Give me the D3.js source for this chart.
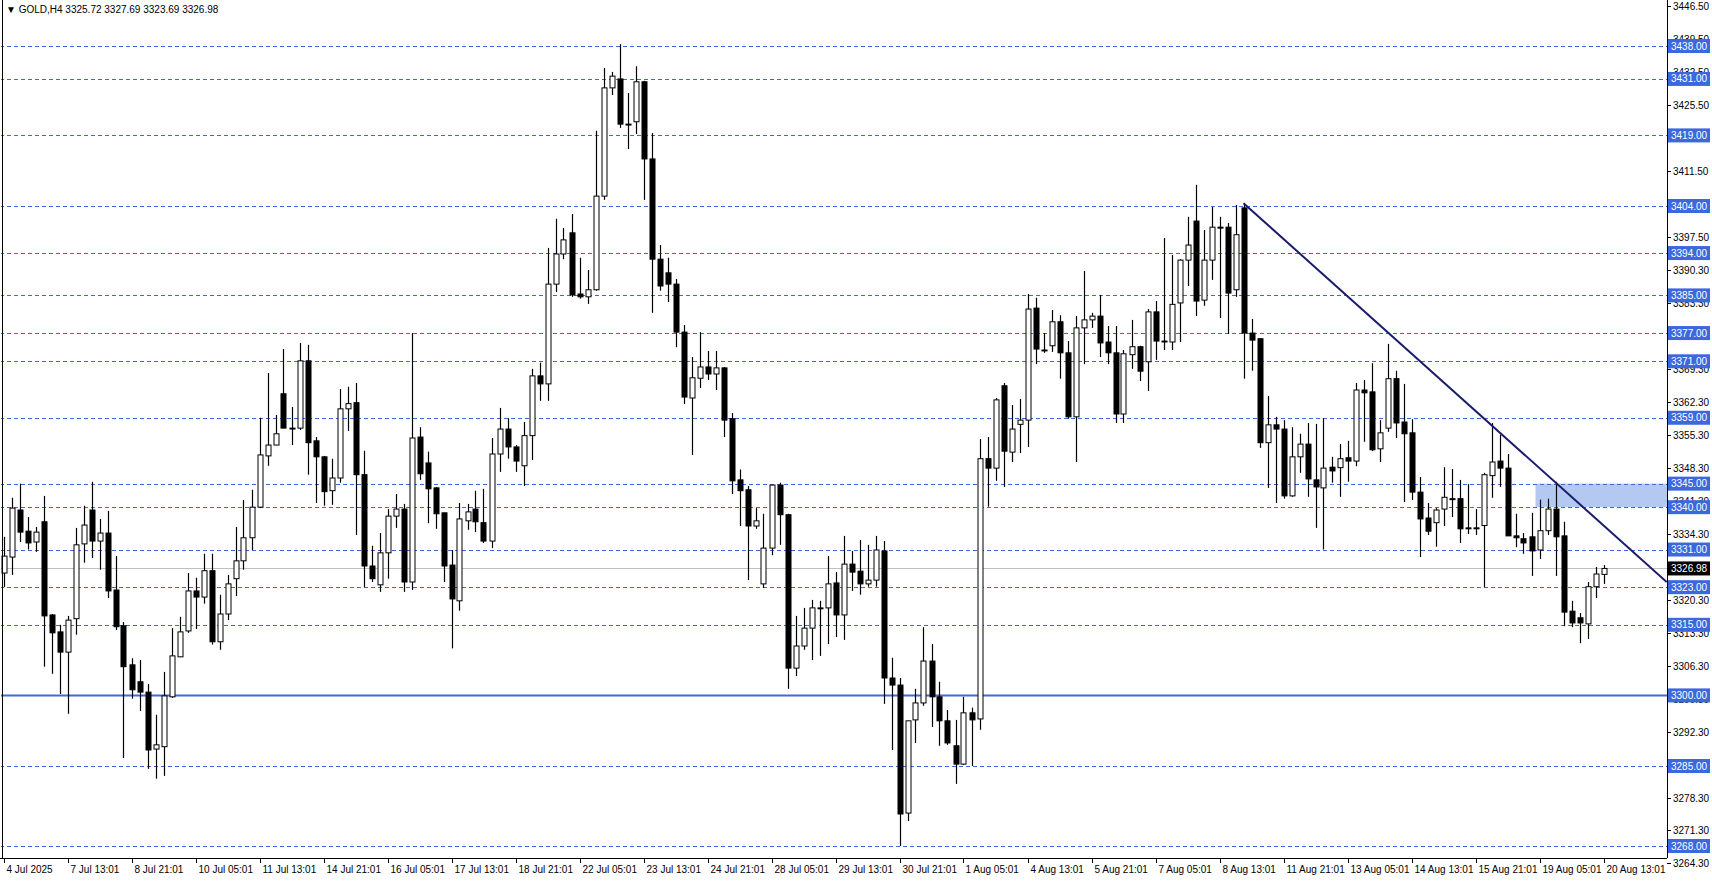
<!DOCTYPE html>
<html><head><meta charset="utf-8">
<script src="https://cdn.jsdelivr.net/npm/d3@7"></script>
<style>body{margin:0;background:#fff}svg{display:block}text{font-family:"Liberation Sans",Arial,sans-serif}</style>
</head><body><svg id="c" width="1712" height="888"></svg>
<script>
const opens=[3326.0,3329.4,3339.4,3334.9,3332.6,3336.9,3317.1,3313.5,3309.2,3316.3,3332.2,3339.4,3332.8,3334.5,3322.4,3314.8,3306.5,3302.9,3300.7,3288.6,3289.1,3299.7,3308.2,3313.7,3322.2,3320.9,3326.5,3311.4,3317.3,3324.8,3328.6,3333.5,3340.0,3350.9,3353.2,3364.1,3356.8,3356.8,3371.1,3354.1,3350.7,3343.5,3346.2,3360.9,3362.2,3346.9,3327.5,3323.5,3330.3,3338.1,3339.6,3324.1,3354.9,3349.4,3344.1,3338.8,3327.7,3320.1,3337.1,3339.6,3336.7,3332.8,3351.3,3356.6,3352.8,3348.8,3355.2,3367.9,3366.2,3387.4,3393.8,3398.3,3385.3,3384.7,3386.2,3406.1,3429.1,3431.0,3421.4,3421.9,3430.4,3414.0,3392.7,3389.8,3387.4,3377.2,3363.2,3367.4,3369.8,3368.3,3369.6,3358.8,3345.8,3343.7,3336.0,3323.7,3331.3,3344.7,3338.4,3305.8,3310.5,3314.3,3318.4,3318.6,3323.9,3317.1,3327.9,3326.4,3323.7,3324.5,3330.7,3303.7,3302.2,3275.0,3294.8,3298.4,3307.3,3299.7,3294.6,3289.3,3285.4,3296.3,3295.0,3350.3,3348.3,3365.8,3351.7,3357.6,3358.5,3382.3,3373.4,3374.3,3379.4,3372.8,3359.2,3378.1,3379.8,3380.6,3375.1,3372.8,3359.8,3372.4,3374.1,3370.9,3381.5,3375.3,3375.1,3383.4,3392.5,3400.8,3384.0,3392.5,3399.5,3399.5,3386.2,3403.6,3377.0,3375.8,3353.7,3357.5,3356.6,3342.4,3350.7,3353.4,3345.8,3344.1,3348.5,3348.4,3350.5,3349.8,3364.9,3364.5,3352.4,3356.8,3367.3,3358.1,3355.8,3343.2,3337.7,3336.7,3339.6,3341.8,3341.8,3335.6,3335.6,3336.1,3346.7,3349.8,3348.3,3333.9,3333.3,3333.7,3330.9,3335.0,3339.6,3333.9,3317.9,3316.5,3315.2,3323.1,3325.72];
const highs=[3333.7,3342.0,3345.0,3337.9,3335.8,3342.4,3317.3,3315.0,3316.9,3335.6,3340.3,3345.4,3337.5,3339.2,3329.6,3315.6,3307.9,3307.5,3302.4,3295.9,3305.0,3314.3,3316.7,3326.0,3325.0,3330.1,3330.1,3321.4,3325.6,3335.8,3341.5,3343.7,3359.0,3368.5,3359.6,3373.6,3361.3,3374.9,3374.5,3354.9,3350.9,3350.3,3365.1,3365.6,3366.4,3352.0,3331.8,3334.5,3339.6,3342.8,3340.7,3377.0,3357.0,3351.8,3344.3,3338.8,3330.9,3340.9,3340.7,3343.5,3343.9,3354.7,3361.1,3358.9,3353.2,3358.1,3369.4,3370.7,3395.1,3401.3,3399.3,3402.3,3393.0,3390.4,3420.0,3433.3,3432.5,3438.4,3428.0,3433.7,3430.6,3419.5,3395.7,3393.0,3388.5,3378.7,3371.9,3377.2,3373.2,3373.2,3369.8,3360.0,3348.0,3344.5,3339.8,3338.6,3344.7,3345.2,3338.6,3316.9,3318.6,3320.3,3320.1,3329.6,3326.2,3333.9,3330.7,3333.0,3332.0,3333.9,3332.8,3308.0,3303.7,3294.6,3301.4,3314.5,3310.9,3302.9,3296.9,3294.8,3299.7,3297.4,3354.5,3354.9,3363.2,3366.4,3361.7,3363.0,3385.3,3384.5,3377.0,3381.9,3380.8,3375.3,3380.6,3390.2,3381.3,3385.1,3378.5,3378.5,3373.4,3379.8,3374.3,3382.1,3383.8,3397.2,3393.6,3392.7,3401.7,3408.5,3398.9,3403.8,3401.7,3400.4,3404.2,3404.6,3380.0,3375.8,3363.6,3359.2,3358.5,3357.0,3355.6,3357.9,3357.7,3358.9,3350.7,3353.4,3354.1,3366.4,3367.0,3370.6,3358.5,3374.7,3369.0,3366.2,3358.7,3346.4,3340.9,3339.8,3348.5,3348.1,3345.8,3344.9,3339.6,3347.3,3357.9,3355.4,3351.3,3338.6,3334.5,3338.8,3341.6,3341.8,3345.4,3336.9,3320.1,3317.5,3324.1,3327.3,3327.69];
const lows=[3323.0,3325.6,3332.6,3331.0,3330.5,3306.1,3304.6,3300.3,3296.1,3312.9,3328.2,3329.2,3326.7,3320.7,3313.9,3286.7,3299.3,3296.7,3284.4,3282.3,3282.9,3299.5,3308.2,3313.3,3314.1,3319.5,3310.8,3309.7,3316.0,3321.1,3326.7,3330.9,3339.8,3348.8,3353.2,3356.8,3353.2,3356.4,3346.9,3340.9,3340.3,3340.5,3345.2,3356.2,3334.1,3323.0,3324.1,3322.0,3324.8,3335.6,3322.0,3322.4,3345.8,3336.6,3335.4,3324.1,3310.0,3318.0,3335.2,3334.7,3332.4,3331.3,3347.5,3350.3,3347.5,3344.5,3350.0,3362.6,3362.6,3385.7,3392.7,3384.7,3384.3,3383.2,3386.0,3405.3,3427.6,3420.6,3416.1,3419.3,3405.3,3381.3,3386.0,3383.6,3374.0,3361.9,3351.1,3365.3,3367.0,3364.9,3354.9,3342.8,3336.0,3324.5,3335.4,3322.8,3329.8,3332.0,3301.4,3304.1,3309.7,3307.5,3308.4,3310.9,3312.4,3311.8,3322.2,3321.4,3323.1,3323.1,3298.2,3288.4,3268.0,3273.3,3289.9,3297.8,3293.3,3289.3,3289.5,3281.2,3285.2,3285.0,3292.7,3340.1,3345.6,3344.3,3349.6,3351.5,3352.8,3370.4,3372.8,3373.0,3367.3,3358.8,3349.6,3370.4,3378.1,3371.9,3370.4,3357.9,3357.9,3369.4,3366.8,3364.7,3371.3,3373.4,3373.4,3375.1,3387.0,3380.6,3382.8,3388.3,3380.2,3376.8,3384.7,3367.3,3369.0,3352.6,3344.1,3340.9,3341.8,3342.2,3347.3,3342.2,3335.6,3331.0,3345.2,3342.2,3345.4,3348.7,3353.9,3351.9,3349.6,3356.0,3354.7,3341.1,3341.5,3329.4,3334.1,3331.6,3336.0,3337.9,3332.4,3334.3,3334.1,3323.0,3342.0,3344.3,3333.9,3331.5,3330.1,3325.4,3329.0,3334.1,3325.4,3314.7,3314.5,3311.1,3312.0,3320.7,3323.69];
const closes=[3329.6,3339.8,3334.7,3332.4,3334.7,3316.9,3313.3,3309.2,3316.0,3332.0,3336.2,3332.8,3334.5,3322.2,3314.6,3306.1,3301.2,3300.7,3288.4,3289.5,3299.9,3308.4,3313.5,3322.2,3320.9,3326.5,3311.4,3317.3,3323.7,3328.6,3333.5,3340.0,3351.1,3353.2,3355.6,3356.8,3356.6,3371.1,3353.7,3350.7,3343.3,3346.2,3360.9,3362.0,3346.9,3327.5,3324.8,3330.3,3338.1,3339.6,3324.1,3354.7,3347.1,3343.9,3338.6,3327.5,3320.5,3337.5,3339.0,3336.9,3332.8,3351.3,3356.6,3352.8,3349.8,3355.2,3367.9,3366.2,3387.4,3393.8,3396.8,3385.1,3384.7,3386.2,3406.1,3429.1,3431.6,3421.4,3421.2,3430.4,3414.0,3392.7,3387.0,3387.4,3377.2,3363.4,3367.5,3369.8,3368.3,3369.6,3358.5,3345.6,3343.5,3336.0,3337.1,3331.3,3344.7,3338.4,3305.8,3310.5,3314.3,3318.6,3318.6,3323.7,3317.1,3327.9,3326.2,3323.7,3324.5,3330.9,3303.7,3302.2,3274.8,3294.6,3298.4,3307.3,3299.7,3294.6,3289.9,3285.4,3296.3,3294.8,3350.3,3348.3,3362.8,3351.9,3356.6,3358.5,3382.1,3373.6,3373.2,3379.4,3372.8,3359.2,3378.1,3379.8,3380.6,3374.9,3372.8,3359.8,3372.6,3374.1,3368.9,3381.5,3375.3,3375.1,3383.1,3392.5,3395.7,3383.8,3392.5,3399.5,3399.3,3385.5,3397.9,3377.0,3375.5,3353.7,3357.5,3356.6,3342.4,3350.7,3353.4,3346.0,3344.3,3348.3,3347.7,3350.3,3349.8,3364.9,3364.3,3352.2,3355.8,3367.3,3357.9,3355.6,3343.2,3337.5,3334.9,3339.4,3342.1,3341.6,3335.4,3335.4,3335.4,3346.9,3349.6,3348.3,3333.9,3333.5,3332.4,3330.7,3335.0,3339.6,3333.7,3317.7,3315.4,3315.4,3323.1,3325.8,3326.98];
const dateLabels=["4 Jul 2025","7 Jul 13:01","8 Jul 21:01","10 Jul 05:01","11 Jul 13:01","14 Jul 21:01","16 Jul 05:01","17 Jul 13:01","18 Jul 21:01","22 Jul 05:01","23 Jul 13:01","24 Jul 21:01","28 Jul 05:01","29 Jul 13:01","30 Jul 21:01","1 Aug 05:01","4 Aug 13:01","5 Aug 21:01","7 Aug 05:01","8 Aug 13:01","11 Aug 21:01","13 Aug 05:01","14 Aug 13:01","15 Aug 21:01","19 Aug 05:01","20 Aug 13:01"];
const priceTicks=[3446.50,3439.50,3432.50,3425.50,3418.50,3411.50,3404.50,3397.50,3390.30,3383.30,3376.30,3369.30,3362.30,3355.30,3348.30,3341.30,3334.30,3327.30,3320.30,3313.30,3306.30,3299.30,3292.30,3285.30,3278.30,3271.30,3264.30];
const levels=[3438,3431,3419,3404,3394,3385,3377,3371,3359,3345,3340,3331,3323,3315,3285,3268];
const mainLevel=3300;
const lastPrice=3326.98;
const zone=[3340,3345];
const zoneStartIndex=191.5;
const trendIdx=[155,207.9];
const trendPrice=[3404.6,3324.1];

const svg=d3.select("#c");
const R=1667,B=858;
const x=d3.scaleLinear().domain([0,200]).range([3.5,1603.5]);
const y=d3.scaleLinear().domain([3268,3438]).range([846,46]);
svg.append("defs").append("clipPath").attr("id","cp").append("rect").attr("x",1).attr("y",1).attr("width",R-1).attr("height",B-1);
const g=svg.append("g").attr("clip-path","url(#cp)");
g.append("rect").attr("x",x(zoneStartIndex)).attr("y",y(zone[1])).attr("width",R-x(zoneStartIndex)).attr("height",y(zone[0])-y(zone[1])).attr("fill","#b3c9f2");
g.selectAll(".lv").data(levels).enter().append("line").attr("x1",0).attr("x2",R).attr("y1",d=>Math.round(y(d))+0.5).attr("y2",d=>Math.round(y(d))+0.5).attr("stroke","#3f66dd").attr("stroke-dasharray","4,3").attr("stroke-width",1);
g.append("line").attr("x1",0).attr("x2",R).attr("y1",y(mainLevel)).attr("y2",y(mainLevel)).attr("stroke","#3f6bd8").attr("stroke-width",2);
g.append("line").attr("x1",0).attr("x2",R).attr("y1",Math.round(y(lastPrice))+0.5).attr("y2",Math.round(y(lastPrice))+0.5).attr("stroke","#c0c0c0");
const idx=d3.range(opens.length);
const cg=g.append("g");
idx.forEach(i=>{
  const cx=Math.round(x(i))+0.5, up=closes[i]>=opens[i];
  cg.append("line").attr("x1",cx).attr("x2",cx).attr("y1",y(highs[i])).attr("y2",y(lows[i])).attr("stroke","#000").attr("stroke-width",1.2);
  const t=y(Math.max(opens[i],closes[i])), b=y(Math.min(opens[i],closes[i]));
  cg.append("rect").attr("x",cx-2.5).attr("y",t).attr("width",5).attr("height",Math.max(b-t,0.8)).attr("fill",up?"#fff":"#000").attr("stroke","#000").attr("stroke-width",1);
});
g.append("line").attr("x1",x(trendIdx[0])).attr("y1",y(trendPrice[0])).attr("x2",x(trendIdx[1])).attr("y2",y(trendPrice[1])).attr("stroke","#1a1c6b").attr("stroke-width",2);
svg.append("line").attr("x1",R+0.5).attr("x2",R+0.5).attr("y1",0).attr("y2",B).attr("stroke","#000");
svg.append("line").attr("x1",0).attr("x2",R).attr("y1",B+0.5).attr("y2",B+0.5).attr("stroke","#000");
svg.append("line").attr("x1",2.5).attr("x2",2.5).attr("y1",0).attr("y2",B).attr("stroke","#000");
const ax=svg.append("g");
priceTicks.forEach(p=>{
  const yy=Math.round(y(p))+0.5;
  ax.append("line").attr("x1",R).attr("x2",R+4).attr("y1",yy).attr("y2",yy).attr("stroke","#000");
  ax.append("text").attr("x",R+6).attr("y",yy+3.5).attr("font-size",10).text(p.toFixed(2));
});
function tag(p,bg){
  const yy=y(p);
  ax.append("rect").attr("x",R+1).attr("y",yy-7).attr("width",42).attr("height",14).attr("fill",bg);
  ax.append("text").attr("x",R+4).attr("y",yy+3.5).attr("font-size",10).attr("fill","#fff").text(p.toFixed(2));
}
levels.concat([mainLevel]).forEach(p=>tag(p,"#3c68dc"));
tag(lastPrice,"#000");
dateLabels.forEach((t,k)=>{
  const xx=Math.round(x(k*8))+0.5;
  svg.append("line").attr("x1",xx).attr("x2",xx).attr("y1",B).attr("y2",B+5).attr("stroke","#000");
  svg.append("text").attr("x",xx+2).attr("y",B+15).attr("font-size",10).text(t);
});
svg.append("text").attr("x",6).attr("y",13).attr("font-size",10).text("\u25BC GOLD,H4  3325.72 3327.69 3323.69 3326.98");
</script></body></html>
